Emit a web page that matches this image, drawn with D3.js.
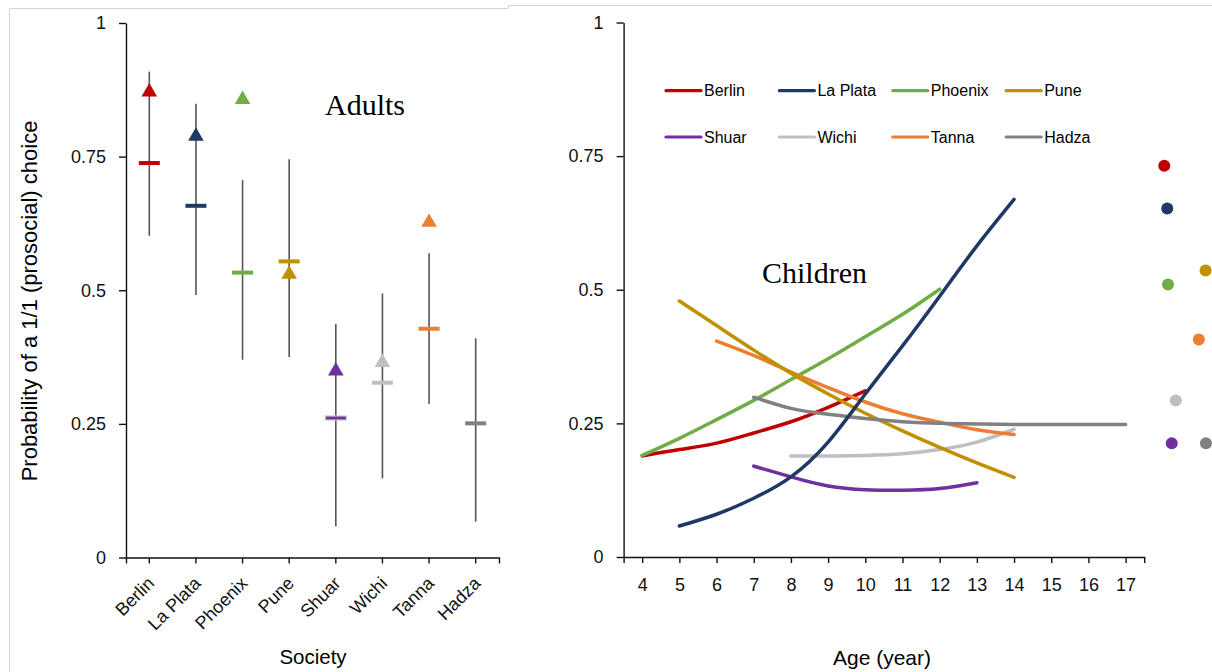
<!DOCTYPE html>
<html>
<head>
<meta charset="utf-8">
<script src="https://cdn.jsdelivr.net/npm/d3@7"></script>
<style>
  body { margin: 0; background: #fff; }
  svg { display: block; font-family: "Liberation Sans", Arial, sans-serif; }
</style>
</head>
<body>
<script>
// societies and colours (same order in both panels)
const societies = ["Berlin", "La Plata", "Phoenix", "Pune", "Shuar", "Wichi", "Tanna", "Hadza"];
const colors = ["#C00000", "#1F3864", "#70AD47", "#BF9000", "#7030A0", "#BFBFBF", "#ED7D31", "#808080"];

// adults panel: mean dash, interval, triangle marker
const adultMean = [0.738, 0.658, 0.533, 0.554, 0.261, 0.327, 0.428, 0.251];
const adultLow = [0.602, 0.491, 0.370, 0.375, 0.058, 0.148, 0.287, 0.067];
const adultHigh = [0.909, 0.849, 0.706, 0.745, 0.437, 0.494, 0.569, 0.410];
const adultTriangle = [0.871, 0.788, 0.857, 0.530, 0.349, 0.365, 0.627, null];

// children panel: fitted curves, one value per year from the start age
const childStartAge = [4, 5, 4, 5, 7, 8, 6, 7];
const childBerlin = [0.189, 0.201, 0.213, 0.232, 0.253, 0.280, 0.311];
const childLaPlata = [0.058, 0.080, 0.110, 0.150, 0.215, 0.305, 0.395, 0.488, 0.582, 0.669];
const childPhoenix = [0.190, 0.222, 0.257, 0.293, 0.332, 0.371, 0.412, 0.454, 0.501];
const childPune = [0.479, 0.433, 0.387, 0.344, 0.305, 0.269, 0.236, 0.205, 0.176, 0.149];
const childShuar = [0.170, 0.150, 0.133, 0.126, 0.125, 0.128, 0.139];
const childWichi = [0.189, 0.189, 0.190, 0.193, 0.201, 0.215, 0.239];
const childTanna = [0.404, 0.377, 0.346, 0.317, 0.290, 0.268, 0.252, 0.238, 0.229];
const childHadza = [0.299, 0.278, 0.267, 0.259, 0.253, 0.250, 0.249, 0.248, 0.248, 0.248, 0.248];
const childValues = [childBerlin, childLaPlata, childPhoenix, childPune, childShuar, childWichi, childTanna, childHadza];

// dots to the right of the children panel
const dotAge = [18.04, 18.12, 18.14, 19.15, 18.24, 18.35, 18.97, 19.16];
const dotValue = [0.732, 0.652, 0.510, 0.536, 0.213, 0.293, 0.407, 0.213];

const yTicks = [0, 0.25, 0.5, 0.75, 1];
const ageTicks = d3.range(4, 18);

const width = 1212;
const height = 672;

let svg = d3.select("body")
    .append("svg")
    .attr("width", width)
    .attr("height", height);

// panel frames
svg.append("path")
    .attr("d", "M9.5,672V8.5H508.5V5.5H1212")
    .attr("fill", "none")
    .attr("stroke", "#d4d4d4")
    .attr("stroke-width", 1);

// ---------- left panel (adults) ----------
const xL = d3.scaleBand()
    .domain(societies)
    .range([126, 499]);
const yL = d3.scaleLinear()
    .domain([0, 1])
    .range([557.5, 23]);

const adults = societies.map((s, i) => ({
    name: s, color: colors[i], mean: adultMean[i],
    low: adultLow[i], high: adultHigh[i], tri: adultTriangle[i]
}));

// y axis
let yAxisL = svg.append("g")
    .attr("transform", "translate(126,0)")
    .call(d3.axisLeft(yL).tickValues(yTicks).tickFormat(d => d).tickSize(7).tickPadding(13).tickSizeOuter(0));

// x axis
let xAxisL = svg.append("g")
    .attr("transform", "translate(0,557.5)")
    .call(d3.axisBottom(xL).tickSize(6).tickSizeOuter(6));

// error bars
svg.append("g").selectAll("line")
    .data(adults)
    .enter()
    .append("line")
    .attr("x1", d => xL(d.name) + xL.bandwidth() / 2)
    .attr("x2", d => xL(d.name) + xL.bandwidth() / 2)
    .attr("y1", d => yL(d.low))
    .attr("y2", d => yL(d.high))
    .attr("stroke", "#555")
    .attr("stroke-width", 1.6);

// mean dashes
svg.append("g").selectAll("rect")
    .data(adults)
    .enter()
    .append("rect")
    .attr("x", d => xL(d.name) + xL.bandwidth() / 2 - 10.5)
    .attr("y", d => yL(d.mean) - 2)
    .attr("width", 21)
    .attr("height", 4)
    .attr("fill", d => d.color)
    .attr("stroke", d => d.name === "Shuar" ? "#c8c8c8" : "none")
    .attr("stroke-width", 1.2);

// triangles
svg.append("g").selectAll("path")
    .data(adults.filter(d => d.tri !== null))
    .enter()
    .append("path")
    .attr("d", d3.symbol().type(d3.symbolTriangle).size(105))
    .attr("transform", d => "translate(" + (xL(d.name) + xL.bandwidth() / 2) + "," + yL(d.tri) + ")")
    .attr("fill", d => d.color);

svg.append("text")
    .attr("x", 325)
    .attr("y", 115)
    .style("font-family", "'Liberation Serif', 'Times New Roman', serif")
    .style("font-size", "30px")
    .text("Adults");

svg.append("text")
    .attr("transform", "translate(37,301) rotate(-90)")
    .attr("text-anchor", "middle")
    .style("font-size", "22px")
    .text("Probability of a 1/1 (prosocial) choice");

svg.append("text")
    .attr("x", 313)
    .attr("y", 664)
    .attr("text-anchor", "middle")
    .style("font-size", "20.5px")
    .text("Society");

// ---------- right panel (children) ----------
const xR = d3.scaleLinear()
    .domain([3.5, 17.5])
    .range([623.6, 1144.2]);
const yR = d3.scaleLinear()
    .domain([0, 1])
    .range([557, 22.5]);

let yAxisR = svg.append("g")
    .attr("transform", "translate(623.6,0)")
    .call(d3.axisLeft(yR).tickValues(yTicks).tickFormat(d => d).tickSize(7).tickPadding(13).tickSizeOuter(0));

let xAxisR = svg.append("g")
    .attr("transform", "translate(0,557)")
    .call(d3.axisBottom(xR).tickValues(ageTicks).tickFormat(d => d).tickSize(6).tickSizeOuter(6));

// style axes
svg.selectAll(".domain, .tick line")
    .attr("stroke", "#111")
    .attr("stroke-width", 1.4);
svg.selectAll(".tick text")
    .attr("fill", "#111")
    .style("font-size", "18px")
    .style("font-family", "'Liberation Sans', Arial, sans-serif");

xAxisR.selectAll("text")
    .attr("y", 28)
    .attr("dy", "0.35em");
xAxisL.selectAll("text")
    .attr("x", 0)
    .attr("y", 0)
    .attr("dy", 0)
    .attr("transform", "translate(6,27) rotate(-45)")
    .style("text-anchor", "end");

const children = societies.map((s, i) => ({
    name: s, color: colors[i],
    points: childValues[i].map((v, k) => ({ age: childStartAge[i] + k, value: v }))
}));

const line = d3.line()
    .x(d => xR(d.age))
    .y(d => yR(d.value))
    .curve(d3.curveNatural);

// draw order so overlaps resemble the original
const drawOrder = [5, 4, 0, 2, 6, 3, 7, 1];
svg.append("g").selectAll("path")
    .data(drawOrder.map(i => children[i]))
    .enter()
    .append("path")
    .attr("d", d => line(d.points))
    .attr("fill", "none")
    .attr("stroke", d => d.color)
    .attr("stroke-width", 3.5)
    .attr("stroke-linecap", "round");

// dots on the right
svg.append("g").selectAll("circle")
    .data(societies.map((s, i) => ({ color: colors[i], age: dotAge[i], value: dotValue[i] })))
    .enter()
    .append("circle")
    .attr("cx", d => xR(d.age))
    .attr("cy", d => yR(d.value))
    .attr("r", 6)
    .attr("fill", d => d.color);

// legend
const legend = svg.append("g").selectAll("g")
    .data(children)
    .enter()
    .append("g")
    .attr("transform", (d, i) => "translate(" + (666 + (i % 4) * 113.4) + "," + (90.7 + Math.floor(i / 4) * 46.3) + ")");
legend.append("line")
    .attr("x1", 0)
    .attr("x2", 35)
    .attr("stroke", d => d.color)
    .attr("stroke-width", 3.2)
    .attr("stroke-linecap", "round");
legend.append("text")
    .attr("x", 38)
    .attr("dy", "0.36em")
    .style("font-size", "16px")
    .text(d => d.name);

svg.append("text")
    .attr("x", 762)
    .attr("y", 283)
    .style("font-family", "'Liberation Serif', 'Times New Roman', serif")
    .style("font-size", "30px")
    .text("Children");

svg.append("text")
    .attr("x", 882)
    .attr("y", 665)
    .attr("text-anchor", "middle")
    .style("font-size", "21px")
    .text("Age (year)");
</script>
</body>
</html>
